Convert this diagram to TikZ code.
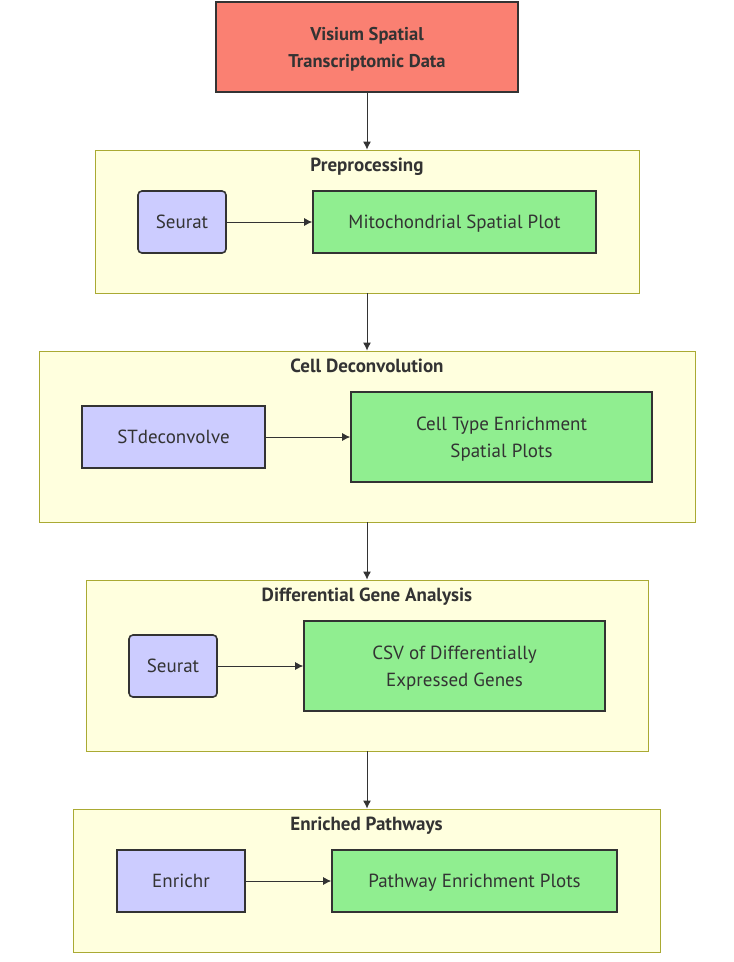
\documentclass[tikz,border=0pt]{standalone}
\usepackage{fontspec}
\setmainfont{PT Sans}
\usetikzlibrary{arrows.meta}
\definecolor{datared}{HTML}{FA8072}
\definecolor{toolblue}{HTML}{CCCCFF}
\definecolor{outgreen}{HTML}{90EE90}
\definecolor{groupfill}{HTML}{FFFFDE}
\definecolor{groupline}{HTML}{AAAA33}
\definecolor{darkline}{HTML}{333333}
\tikzset{
  box/.style={draw=darkline, line width=1.6pt, align=center, inner sep=0pt, text depth=0pt,
    font=\fontsize{19}{27}\selectfont, text=darkline},
  group/.style={draw=groupline, fill=groupfill, line width=0.9pt, inner sep=0pt},
  grouptitle/.style={font=\fontsize{19}{22}\selectfont\bfseries, text=darkline, anchor=north},
  flow/.style={-{Latex[length=8pt,width=8pt]}, draw=darkline, line width=0.9pt}
}
\begin{document}
\begin{tikzpicture}[x=1pt, y=-1pt]
        \useasboundingbox (0,0) rectangle (734,962);
        % Input data
        \node[box, fill=datared, minimum width=302pt, minimum height=90pt, font=\fontsize{18.5}{27}\selectfont\bfseries]
          (DATA) at (367, 47) {Visium Spatial\\Transcriptomic Data};
        % Groups
        \node[group, minimum width=544pt, minimum height=143pt] (PRE) at (367, 221.5) {};
        \node[grouptitle] at ([yshift=-5pt]PRE.north) {Preprocessing};
        \node[group, minimum width=656pt, minimum height=171pt] (DEC) at (367, 436.5) {};
        \node[grouptitle] at ([yshift=-5pt]DEC.north) {Cell Deconvolution};
        \node[group, minimum width=562pt, minimum height=171pt] (DGA) at (367, 665.5) {};
        \node[grouptitle] at ([yshift=-5pt]DGA.north) {Differential Gene Analysis};
        \node[group, minimum width=587pt, minimum height=143pt] (ENR) at (366.5, 880.5) {};
        \node[grouptitle] at ([yshift=-5pt]ENR.north) {Enriched Pathways};
        % Tools
        \node[box, fill=toolblue, rounded corners=4pt, minimum width=88pt, minimum height=62pt]
          (SEU1) at (182, 222) {Seurat};
        \node[box, fill=toolblue, minimum width=183pt, minimum height=62pt]
          (STD) at (173.5, 437) {STdeconvolve};
        \node[box, fill=toolblue, rounded corners=4pt, minimum width=88pt, minimum height=62pt]
          (SEU2) at (173, 666) {Seurat};
        \node[box, fill=toolblue, minimum width=128pt, minimum height=62pt]
          (ENRR) at (181, 881) {Enrichr};
        % Outputs
        \node[box, fill=outgreen, minimum width=283pt, minimum height=62pt]
          (MITO) at (454.5, 222) {Mitochondrial Spatial Plot};
        \node[box, fill=outgreen, minimum width=301pt, minimum height=90pt]
          (CTE) at (501.5, 437) {Cell Type Enrichment\\Spatial Plots};
        \node[box, fill=outgreen, minimum width=301pt, minimum height=90pt]
          (CSV) at (454.5, 666) {CSV of Differentially\\Expressed Genes};
        \node[box, fill=outgreen, minimum width=285pt, minimum height=62pt]
          (PATH) at (474.5, 881) {Pathway Enrichment Plots};
        % Main flow
        \draw[flow] (DATA) -- (PRE);
        \draw[flow] (PRE) -- (DEC);
        \draw[flow] (DEC) -- (DGA);
        \draw[flow] (DGA.south) -- (DGA.south |- ENR.north);
        % Inside groups
        \draw[flow] (SEU1) -- (MITO);
        \draw[flow] (STD) -- (CTE);
        \draw[flow] (SEU2) -- (CSV);
        \draw[flow] (ENRR) -- (PATH);
      \end{tikzpicture}
\end{document}
